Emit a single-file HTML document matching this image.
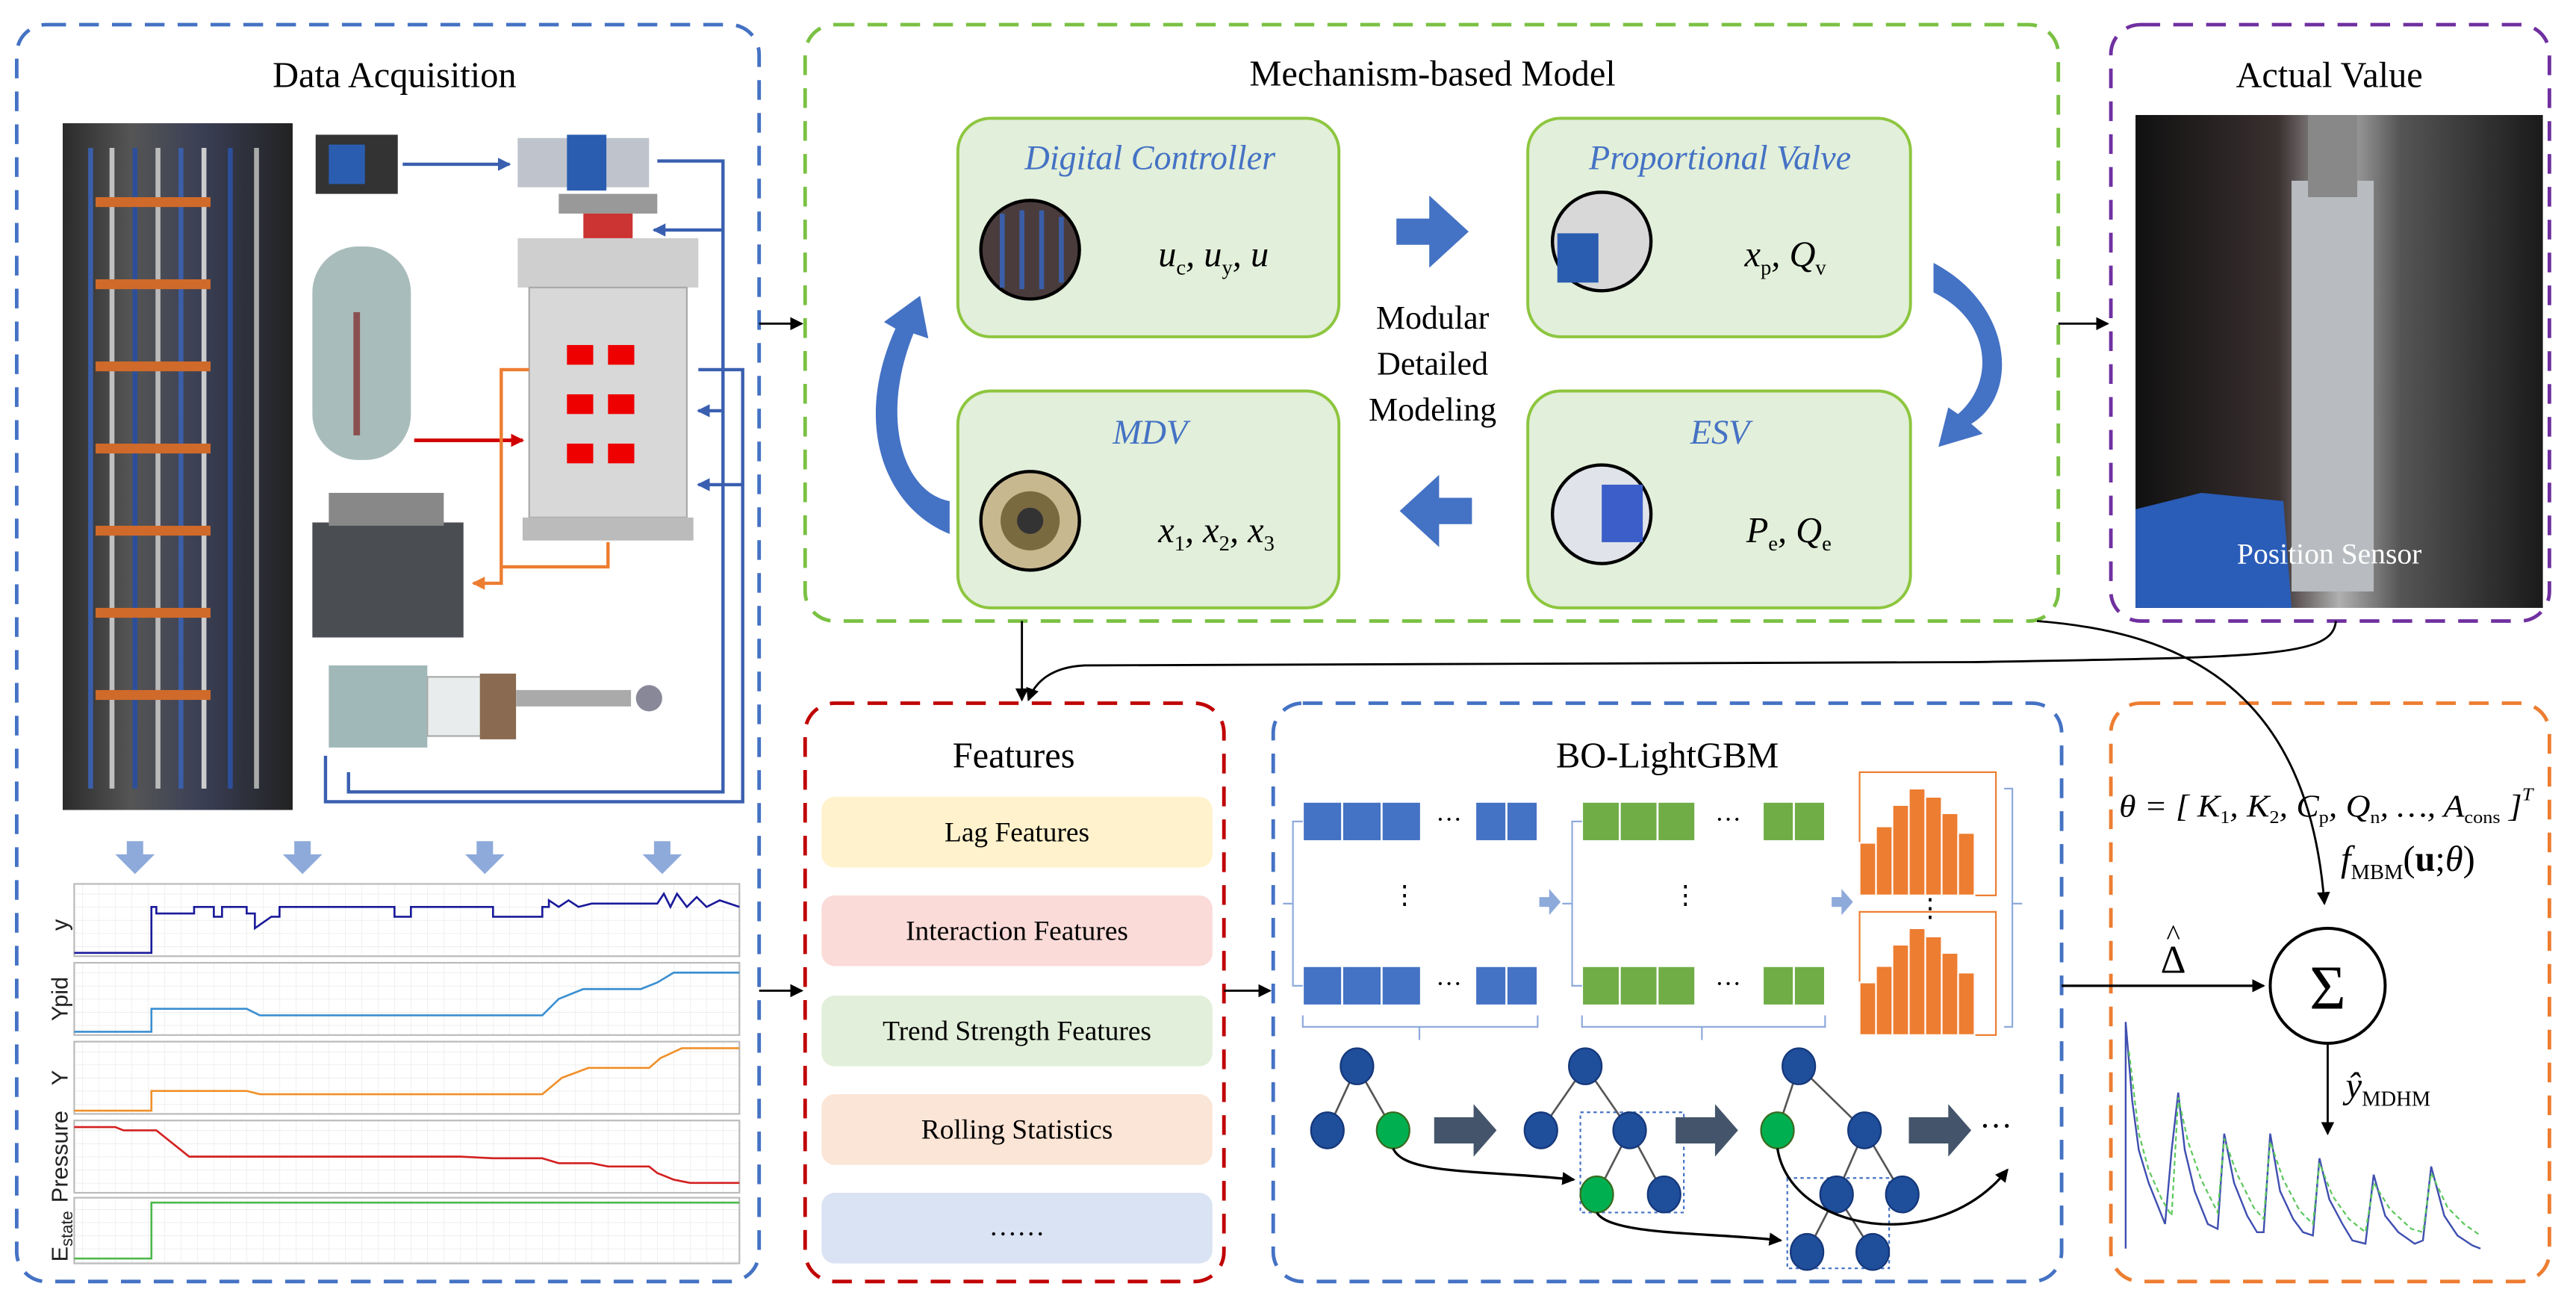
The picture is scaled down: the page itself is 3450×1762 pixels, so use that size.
<!DOCTYPE html>
<html><head><meta charset="utf-8"><style>
html,body{margin:0;padding:0;background:#fff;}
svg{display:block;}
text{font-family:"Liberation Serif",serif;}
text.sans{font-family:"Liberation Sans",sans-serif;}
</style></head><body>
<svg width="3450" height="1762" viewBox="0 0 1568 801" xmlns="http://www.w3.org/2000/svg">
<defs>
<marker id="ah" markerWidth="8" markerHeight="8" refX="7" refY="4" orient="auto" markerUnits="userSpaceOnUse"><path d="M0,0 L8,4 L0,8 z" fill="#000"/></marker>
<marker id="ahb" markerWidth="8" markerHeight="8" refX="7" refY="4" orient="auto" markerUnits="userSpaceOnUse"><path d="M0,0 L8,4 L0,8 z" fill="#3A5FB0"/></marker>
<marker id="aho" markerWidth="8" markerHeight="8" refX="7" refY="4" orient="auto" markerUnits="userSpaceOnUse"><path d="M0,0 L8,4 L0,8 z" fill="#ED7D31"/></marker>
<marker id="ahr" markerWidth="8" markerHeight="8" refX="7" refY="4" orient="auto" markerUnits="userSpaceOnUse"><path d="M0,0 L8,4 L0,8 z" fill="#D00000"/></marker>
<pattern id="grid" width="10" height="8" patternUnits="userSpaceOnUse"><path d="M10,0 L0,0 0,8" fill="none" stroke="#e4e4e4" stroke-width="0.5"/></pattern>
<linearGradient id="cab" x1="0" x2="1"><stop offset="0" stop-color="#2b2b2b"/><stop offset="0.3" stop-color="#555"/><stop offset="0.6" stop-color="#3a3f55"/><stop offset="1" stop-color="#222"/></linearGradient>
<linearGradient id="act" x1="0" x2="1"><stop offset="0" stop-color="#111"/><stop offset="0.35" stop-color="#3a3030"/><stop offset="0.5" stop-color="#b0b0b0"/><stop offset="0.65" stop-color="#555"/><stop offset="1" stop-color="#1a1a1a"/></linearGradient>
</defs>

<rect x="10" y="15" width="452" height="765" rx="18" fill="none" stroke="#4472C4" stroke-width="2.2" stroke-dasharray="12,8"/>
<rect x="490" y="15" width="763" height="363" rx="18" fill="none" stroke="#7AC143" stroke-width="2.2" stroke-dasharray="12,8"/>
<rect x="1285" y="15" width="267" height="363" rx="18" fill="none" stroke="#7030A0" stroke-width="2.2" stroke-dasharray="12,8"/>
<rect x="490" y="428" width="255" height="352" rx="18" fill="none" stroke="#C00000" stroke-width="2.2" stroke-dasharray="12,8"/>
<rect x="775" y="428" width="480" height="352" rx="18" fill="none" stroke="#4472C4" stroke-width="2.2" stroke-dasharray="12,8"/>
<rect x="1285" y="428" width="267" height="352" rx="18" fill="none" stroke="#ED7D31" stroke-width="2.2" stroke-dasharray="12,8"/>

<text x="240" y="53" font-size="22" text-anchor="middle">Data Acquisition</text>
<text x="872" y="52" font-size="22" text-anchor="middle">Mechanism-based Model</text>
<text x="1418" y="53" font-size="22" text-anchor="middle">Actual Value</text>
<text x="617" y="467" font-size="22" text-anchor="middle">Features</text>
<text x="1015" y="467" font-size="22" text-anchor="middle">BO-LightGBM</text>

<rect x="38" y="75" width="140" height="418" fill="url(#cab)"/>
<g stroke-width="3" fill="none">
<path d="M55,90 v390" stroke="#3b5ea8"/><path d="M68,90 v390" stroke="#c0c0c0"/><path d="M82,90 v390" stroke="#2d4f9a"/><path d="M96,90 v390" stroke="#bbb"/><path d="M110,90 v390" stroke="#3b5ea8"/><path d="M124,90 v390" stroke="#ccc"/><path d="M140,90 v390" stroke="#2d4f9a"/><path d="M156,90 v390" stroke="#aaa"/>
</g>
<g fill="#d06a2a">
<rect x="58" y="120" width="70" height="6"/><rect x="58" y="170" width="70" height="6"/><rect x="58" y="220" width="70" height="6"/><rect x="58" y="270" width="70" height="6"/><rect x="58" y="320" width="70" height="6"/><rect x="58" y="370" width="70" height="6"/><rect x="58" y="420" width="70" height="6"/>
</g>
<rect x="192" y="82" width="50" height="36" fill="#333"/><rect x="200" y="88" width="22" height="24" fill="#2a5db0"/>
<rect x="315" y="84" width="80" height="30" fill="#bfc4cc"/><rect x="345" y="82" width="24" height="34" fill="#2a5db0"/>
<path d="M245,100 L310,100" stroke="#3A5FB0" stroke-width="2" marker-end="url(#ahb)"/>
<path d="M400,98 H440 V140 H398" stroke="#3A5FB0" stroke-width="2" fill="none" marker-end="url(#ahb)"/>
<rect x="190" y="150" width="60" height="130" rx="28" fill="#a9bcbc"/><rect x="215" y="190" width="4" height="75" fill="#8a5050"/>
<rect x="340" y="118" width="60" height="12" fill="#999"/><rect x="355" y="130" width="30" height="15" fill="#c33"/>
<rect x="315" y="145" width="110" height="30" fill="#cfcfcf"/>
<rect x="322" y="175" width="96" height="140" fill="#d8d8d8" stroke="#aaa"/>
<rect x="345" y="210" width="16" height="12" fill="#e00"/><rect x="370" y="210" width="16" height="12" fill="#e00"/><rect x="345" y="240" width="16" height="12" fill="#e00"/><rect x="370" y="240" width="16" height="12" fill="#e00"/><rect x="345" y="270" width="16" height="12" fill="#e00"/><rect x="370" y="270" width="16" height="12" fill="#e00"/>
<rect x="318" y="315" width="104" height="14" fill="#bbb"/>
<path d="M252,268 H318" stroke="#D00000" stroke-width="2.2" marker-end="url(#ahr)"/>
<path d="M322,225 H305 V355 H288" stroke="#ED7D31" stroke-width="2" fill="none" marker-end="url(#aho)"/>
<path d="M370,330 V345 H305" stroke="#ED7D31" stroke-width="2" fill="none"/>
<path d="M440,140 V250 H425" stroke="#3A5FB0" stroke-width="2" fill="none" marker-end="url(#ahb)"/>
<path d="M212,470 V482 H440 V250" stroke="#3A5FB0" stroke-width="2" fill="none"/>
<path d="M198,460 V488 H452 V295 H425" stroke="#3A5FB0" stroke-width="2" fill="none" marker-end="url(#ahb)"/>
<path d="M425,225 H452 V295" stroke="#3A5FB0" stroke-width="2" fill="none"/>
<rect x="190" y="318" width="92" height="70" fill="#4a4d52"/><rect x="200" y="300" width="70" height="20" fill="#888"/>
<rect x="200" y="405" width="60" height="50" fill="#a0b8b8"/><rect x="260" y="412" width="50" height="36" fill="#e8ecec" stroke="#aaa"/><rect x="292" y="410" width="22" height="40" fill="#8a6a50"/><rect x="314" y="420" width="70" height="10" fill="#aaa"/><circle cx="395" cy="425" r="8" fill="#889"/>
<g fill="#8EAADB">
<path d="M77,512 h10 v8 h7 l-12,12 -12,-12 h7z"/><path d="M179,512 h10 v8 h7 l-12,12 -12,-12 h7z"/><path d="M290,512 h10 v8 h7 l-12,12 -12,-12 h7z"/><path d="M398,512 h10 v8 h7 l-12,12 -12,-12 h7z"/>
</g>
<g stroke="#bbb" stroke-width="1">
<rect x="45" y="538" width="405" height="44" fill="url(#grid)"/>
<rect x="45" y="586" width="405" height="44" fill="url(#grid)"/>
<rect x="45" y="634" width="405" height="44" fill="url(#grid)"/>
<rect x="45" y="682" width="405" height="44" fill="url(#grid)"/>
<rect x="45" y="729" width="405" height="40" fill="url(#grid)"/>
</g>
<path d="M45,580 H92 V552 H95 V556 H118 V552 H130 V558 H135 V552 H150 V556 H155 V565 L165,558 H170 V552 H240 V558 H250 V552 H300 V558 H330 V552 H334 V548 L340,552 L346,548 L352,552 L360,550 H400 L404,544 L408,552 L412,544 L418,552 L424,546 L430,552 L438,548 L450,552" fill="none" stroke="#1a1a9a" stroke-width="1.2"/>
<path d="M45,628 H92 V614 H150 L158,618 H330 L340,608 L355,602 H390 L400,598 L410,592 H450" fill="none" stroke="#3b8fd0" stroke-width="1.2"/>
<path d="M45,676 H92 V664 H150 L158,666 H330 L342,656 L358,650 H395 L402,644 L415,638 H450" fill="none" stroke="#f0902a" stroke-width="1.2"/>
<path d="M45,686 H70 L75,688 H95 L100,692 L110,700 L115,704 H190 H280 L300,705 H330 L340,708 H360 L370,710 H395 L400,714 L410,718 L420,720 H450" fill="none" stroke="#d42020" stroke-width="1.2"/>
<path d="M45,766 H92 V732 H450" fill="none" stroke="#4cb84c" stroke-width="1.2"/>
<g font-size="14" fill="#222">
<text class="sans" transform="translate(41,563) rotate(-90)" text-anchor="middle">y</text>
<text class="sans" transform="translate(41,608) rotate(-90)" text-anchor="middle">Ypid</text>
<text class="sans" transform="translate(41,656) rotate(-90)" text-anchor="middle">Y</text>
<text class="sans" transform="translate(41,704) rotate(-90)" text-anchor="middle">Pressure</text>
<text class="sans" transform="translate(41,768) rotate(-90)">E<tspan font-size="10" dy="3">state</tspan></text>
</g>

<path d="M462,197 H488" stroke="#000" stroke-width="1.3" marker-end="url(#ah)"/>
<path d="M1253,197 H1283" stroke="#000" stroke-width="1.3" marker-end="url(#ah)"/>
<path d="M462,603 H488" stroke="#000" stroke-width="1.3" marker-end="url(#ah)"/>
<path d="M745,603 H773" stroke="#000" stroke-width="1.3" marker-end="url(#ah)"/>
<path d="M622,378 V426" stroke="#000" stroke-width="1.3" marker-end="url(#ah)"/>
<path d="M1422,378 C1420,400 1380,400 1200,403 L660,405 C640,406 630,415 626,426" fill="none" stroke="#000" stroke-width="1.3" marker-end="url(#ah)"/>
<path d="M1240,378 C1330,385 1405,420 1415,550" fill="none" stroke="#000" stroke-width="1.3" marker-end="url(#ah)"/>
<path d="M1255,600 H1378" stroke="#000" stroke-width="1.5" marker-end="url(#ah)"/>
<path d="M1417,632 V690" stroke="#000" stroke-width="1.3" marker-end="url(#ah)"/>

<g fill="#E2EFDA" stroke="#8DC63F" stroke-width="1.8">
<rect x="583" y="72" width="232" height="133" rx="20"/>
<rect x="930" y="72" width="233" height="133" rx="20"/>
<rect x="583" y="238" width="232" height="132" rx="20"/>
<rect x="930" y="238" width="233" height="132" rx="20"/>
</g>
<g font-size="21" fill="#4472C4" text-anchor="middle" font-style="italic">
<text x="700" y="103">Digital Controller</text>
<text x="1047" y="103">Proportional Valve</text>
<text x="700" y="270">MDV</text>
<text x="1047" y="270">ESV</text>
</g>
<g stroke="#000" stroke-width="2">
<circle cx="627" cy="152" r="30" fill="#4a3c3c"/>
<circle cx="975" cy="147" r="30" fill="#d8d8d8"/>
<circle cx="627" cy="317" r="30" fill="#c8b890"/>
<circle cx="975" cy="313" r="30" fill="#e0e4ea"/>
</g>
<path d="M610,130 v45 M622,128 v48 M634,128 v48 M646,132 v40" stroke="#3b5ea8" stroke-width="3"/>
<rect x="948" y="142" width="25" height="30" fill="#2a5db0"/>
<circle cx="627" cy="317" r="18" fill="#7a6a40"/><circle cx="627" cy="317" r="8" fill="#333"/>
<rect x="975" y="295" width="25" height="35" fill="#3b5ec8"/>
<g font-size="22" font-style="italic">
<text x="705" y="162">u<tspan font-size="13" dy="5" font-style="normal">c</tspan><tspan dy="-5">, u</tspan><tspan font-size="13" dy="5" font-style="normal">y</tspan><tspan dy="-5">, u</tspan></text>
<text x="1062" y="162">x<tspan font-size="13" dy="5" font-style="normal">p</tspan><tspan dy="-5">, Q</tspan><tspan font-size="13" dy="5" font-style="normal">v</tspan></text>
<text x="705" y="330">x<tspan font-size="13" dy="5" font-style="normal">1</tspan><tspan dy="-5">, x</tspan><tspan font-size="13" dy="5" font-style="normal">2</tspan><tspan dy="-5">, x</tspan><tspan font-size="13" dy="5" font-style="normal">3</tspan></text>
<text x="1063" y="330">P<tspan font-size="13" dy="5" font-style="normal">e</tspan><tspan dy="-5">, Q</tspan><tspan font-size="13" dy="5" font-style="normal">e</tspan></text>
</g>
<g font-size="20" text-anchor="middle">
<text x="872" y="200">Modular</text>
<text x="872" y="228">Detailed</text>
<text x="872" y="256">Modeling</text>
</g>
<g fill="#4472C4">
<path d="M850,133 h20 v-14 l24,22 -24,22 v-14 h-20z"/>
<path d="M896,303 h-20 v-14 l-24,22 24,22 v-14 h20z"/>
<path d="M578,325 C540,310 518,260 545,200 L538,196 L560,180 L565,206 L556,203 C535,255 550,300 578,305z"/>
<path d="M1177,160 C1225,185 1230,240 1200,258 L1207,264 L1180,272 L1186,248 L1192,252 C1215,232 1212,195 1177,178z"/>
</g>

<rect x="1300" y="70" width="248" height="300" fill="url(#act)"/>
<rect x="1395" y="110" width="50" height="250" fill="#b8bcc0"/><rect x="1405" y="70" width="30" height="50" fill="#888"/>
<path d="M1300,310 L1340,300 L1390,305 L1395,370 L1300,370z" fill="#2a5db8"/>
<text x="1418" y="343" font-size="18" fill="#fff" text-anchor="middle">Position Sensor</text>

<rect x="500" y="485" width="238" height="43" rx="8" fill="#FFF2CC"/>
<rect x="500" y="545" width="238" height="43" rx="8" fill="#FADBD8"/>
<rect x="500" y="606" width="238" height="43" rx="8" fill="#E2EFDA"/>
<rect x="500" y="666" width="238" height="43" rx="8" fill="#FBE5D6"/>
<rect x="500" y="726" width="238" height="43" rx="8" fill="#DAE3F3"/>
<g font-size="17" text-anchor="middle">
<text x="619" y="512">Lag Features</text>
<text x="619" y="572">Interaction Features</text>
<text x="619" y="633">Trend Strength Features</text>
<text x="619" y="693">Rolling Statistics</text>
<text x="619" y="752">……</text>
</g>

<g stroke="#fff" stroke-width="1.2">
<g fill="#4472C4">
<rect x="793" y="488" width="24" height="24"/><rect x="817" y="488" width="24" height="24"/><rect x="841" y="488" width="24" height="24"/><rect x="898" y="488" width="19" height="24"/><rect x="917" y="488" width="19" height="24"/>
<rect x="793" y="588" width="24" height="24"/><rect x="817" y="588" width="24" height="24"/><rect x="841" y="588" width="24" height="24"/><rect x="898" y="588" width="19" height="24"/><rect x="917" y="588" width="19" height="24"/>
</g>
<g fill="#70AD47">
<rect x="963" y="488" width="23" height="24"/><rect x="986" y="488" width="23" height="24"/><rect x="1009" y="488" width="23" height="24"/><rect x="1073" y="488" width="19" height="24"/><rect x="1092" y="488" width="19" height="24"/>
<rect x="963" y="588" width="23" height="24"/><rect x="986" y="588" width="23" height="24"/><rect x="1009" y="588" width="23" height="24"/><rect x="1073" y="588" width="19" height="24"/><rect x="1092" y="588" width="19" height="24"/>
</g>
</g>
<g font-size="16" text-anchor="middle">
<text x="882" y="504">···</text><text x="882" y="604">···</text><text x="1052" y="504">···</text><text x="1052" y="604">···</text>
<text x="855" y="550">⋮</text><text x="1026" y="550">⋮</text><text x="1175" y="558">⋮</text>
</g>
<g fill="none" stroke="#8EAADB" stroke-width="1">
<path d="M793,500 h-6 v50 h-6 h6 v50 h6"/>
<path d="M963,500 h-6 v50 h-6 h6 v50 h6"/>
<path d="M793,618 v7 h143 v-7 M864,625 v8"/>
<path d="M963,618 v7 h148 v-7 M1036,625 v8"/>
<path d="M1220,480 h5 v70 h6 h-6 v75 h-5"/>
</g>
<path d="M937,546 h6 v-5 l7,8 -7,8 v-5 h-6z" fill="#8EAADB"/>
<path d="M1115,546 h6 v-5 l7,8 -7,8 v-5 h-6z" fill="#8EAADB"/>
<g stroke="#ED7D31" fill="none" stroke-width="1"><rect x="1132" y="470" width="83" height="75"/><rect x="1132" y="555" width="83" height="75"/></g>
<g fill="#ED7D31" stroke="#fff" stroke-width="1">
<rect x="1132" y="513" width="10" height="32"/><rect x="1142" y="503" width="10" height="42"/><rect x="1152" y="490" width="10" height="55"/><rect x="1162" y="480" width="10" height="65"/><rect x="1172" y="485" width="10" height="60"/><rect x="1182" y="495" width="10" height="50"/><rect x="1192" y="507" width="10" height="38"/>
<rect x="1132" y="598" width="10" height="32"/><rect x="1142" y="588" width="10" height="42"/><rect x="1152" y="575" width="10" height="55"/><rect x="1162" y="565" width="10" height="65"/><rect x="1172" y="570" width="10" height="60"/><rect x="1182" y="580" width="10" height="50"/><rect x="1192" y="592" width="10" height="38"/>
</g>
<g stroke="#555" stroke-width="1.2">
<path d="M826,649 L808,688 M826,649 L848,688"/>
<path d="M965,649 L938,688 M965,649 L992,688 M992,688 L972,727 M992,688 L1013,727"/>
<path d="M1095,649 L1082,688 M1095,649 L1135,688 M1135,688 L1118,727 M1135,688 L1158,727 M1118,727 L1100,762 M1118,727 L1140,762"/>
</g>
<g fill="none" stroke="#4472C4" stroke-width="1" stroke-dasharray="2,2"><rect x="962" y="677" width="63" height="61"/><rect x="1088" y="717" width="62" height="55"/></g>
<g fill="#1F4E9B" stroke="#15377a" stroke-width="1">
<ellipse cx="826" cy="649" rx="10" ry="11"/><ellipse cx="808" cy="688" rx="10" ry="11"/>
<ellipse cx="965" cy="649" rx="10" ry="11"/><ellipse cx="938" cy="688" rx="10" ry="11"/><ellipse cx="992" cy="688" rx="10" ry="11"/><ellipse cx="1013" cy="727" rx="10" ry="11"/>
<ellipse cx="1095" cy="649" rx="10" ry="11"/><ellipse cx="1135" cy="688" rx="10" ry="11"/><ellipse cx="1118" cy="727" rx="10" ry="11"/><ellipse cx="1158" cy="727" rx="10" ry="11"/><ellipse cx="1100" cy="762" rx="10" ry="11"/><ellipse cx="1140" cy="762" rx="10" ry="11"/>
</g>
<g fill="#00B050" stroke="#3a6a20" stroke-width="1">
<ellipse cx="848" cy="688" rx="10" ry="11"/><ellipse cx="972" cy="727" rx="10" ry="11"/><ellipse cx="1082" cy="688" rx="10" ry="11"/>
</g>
<g fill="#44546A">
<path d="M873,680 h24 v-8 l14,16 -14,16 v-8 h-24z"/>
<path d="M1020,680 h24 v-8 l14,16 -14,16 v-8 h-24z"/>
<path d="M1162,680 h24 v-8 l14,16 -14,16 v-8 h-24z"/>
</g>
<text x="1215" y="692" font-size="20" text-anchor="middle">···</text>
<g fill="none" stroke="#000" stroke-width="1.5">
<path d="M848,699 C855,715 900,712 958,718" marker-end="url(#ah)"/>
<path d="M972,738 C980,752 1040,750 1084,755" marker-end="url(#ah)"/>
<path d="M1082,699 C1090,750 1180,765 1222,712" marker-end="url(#ah)"/>
</g>

<text x="1290" y="497" font-size="19" font-style="italic" textLength="252" lengthAdjust="spacingAndGlyphs">θ = [ K<tspan font-size="11" dy="4" font-style="normal">1</tspan><tspan dy="-4">, K</tspan><tspan font-size="11" dy="4" font-style="normal">2</tspan><tspan dy="-4">, C</tspan><tspan font-size="11" dy="4" font-style="normal">p</tspan><tspan dy="-4">, Q</tspan><tspan font-size="11" dy="4" font-style="normal">n</tspan><tspan dy="-4">, …, A</tspan><tspan font-size="11" dy="4" font-style="normal">cons</tspan><tspan dy="-4"> ]</tspan><tspan font-size="11" dy="-10">T</tspan></text>
<text x="1425" y="530" font-size="22" font-style="italic">f<tspan font-size="13" dy="5" font-style="normal">MBM</tspan><tspan dy="-5" font-style="normal">(</tspan><tspan font-weight="bold" font-style="normal">u</tspan><tspan font-style="normal">;</tspan>θ<tspan font-style="normal">)</tspan></text>
<text x="1323" y="592" font-size="24" text-anchor="middle">Δ</text>
<text x="1323" y="575" font-size="18" text-anchor="middle">^</text>
<circle cx="1417" cy="600" r="35" fill="#fff" stroke="#000" stroke-width="1.8"/>
<text x="1417" y="614" font-size="38" text-anchor="middle">Σ</text>
<text x="1428" y="668" font-size="22" font-style="italic">ŷ<tspan font-size="13" dy="5" font-style="normal">MDHM</tspan></text>
<path d="M1294,760 V622 L1298,670 L1302,700 L1308,720 L1314,735 L1318,745 L1322,700 L1326,665 L1330,700 L1336,725 L1344,745 L1350,748 L1354,690 L1360,720 L1368,740 L1374,750 L1378,750 L1382,690 L1388,725 L1396,742 L1402,750 L1408,752 L1412,705 L1418,730 L1426,745 L1432,755 L1440,757 L1445,715 L1452,740 L1460,750 L1470,757 L1475,755 L1480,710 L1488,740 L1496,752 L1505,758 L1510,760" fill="none" stroke="#3f4fb0" stroke-width="1.1"/>
<path d="M1296,640 L1302,690 L1308,712 L1316,730 L1322,740 L1326,668 L1332,695 L1340,718 L1350,738 L1354,693 L1362,715 L1372,735 L1378,742 L1382,695 L1390,718 L1400,737 L1408,745 L1412,708 L1420,728 L1430,742 L1440,750 L1445,720 L1455,736 L1468,748 L1475,750 L1480,714 L1490,735 L1500,745 L1510,752" fill="none" stroke="#5cc85c" stroke-width="1" stroke-dasharray="3,2"/>
</svg>
</body></html>
